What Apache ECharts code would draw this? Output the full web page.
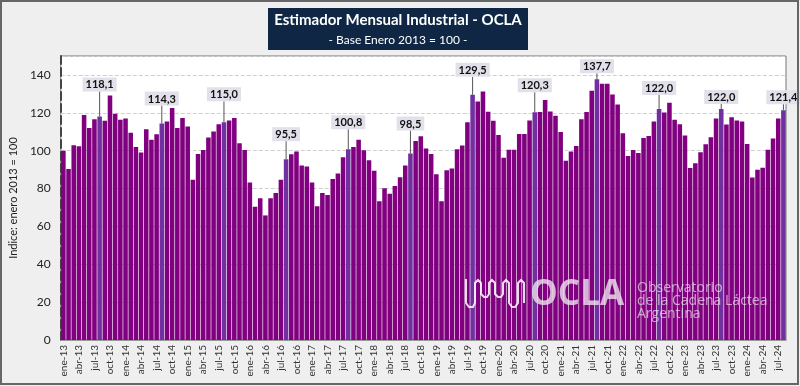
<!DOCTYPE html>
<html>
<head>
<meta charset="utf-8">
<script src="https://cdn.jsdelivr.net/npm/echarts@6/dist/echarts.min.js"></script>
<style>
html,body{margin:0;padding:0;background:#efefef;}
#c{width:800px;height:386px;}
</style>
</head>
<body>
<div id="c"></div>
<script>
const monthNames = ['ene','feb','mar','abr','may','jun','jul','ago','sep','oct','nov','dic'];
const years = ['13','14','15','16','17','18','19','20','21','22','23','24'];
const categories = [];
years.forEach(y => monthNames.forEach(m => categories.push(m + '-' + y)));
categories.length = 140; // ene-13 .. ago-24

const v2013 = [100.0, 90.3, 102.8, 102.3, 118.9, 112.0, 116.6, 118.1, 115.8, 129.2, 119.5, 116.3];
const v2014 = [117.0, 109.4, 102.0, 99.0, 111.3, 105.7, 108.7, 114.3, 115.4, 122.5, 112.0, 117.3];
const v2015 = [112.7, 84.6, 98.2, 100.4, 106.9, 110.1, 114.0, 115.0, 115.9, 117.2, 103.9, 100.4];
const v2016 = [83.2, 70.4, 74.9, 65.8, 74.9, 77.7, 84.6, 95.5, 98.1, 99.6, 92.2, 91.7];
const v2017 = [83.2, 70.6, 77.7, 76.6, 85.0, 88.0, 96.5, 100.8, 102.0, 105.7, 100.2, 95.0];
const v2018 = [89.4, 73.3, 80.2, 77.3, 81.4, 86.0, 92.2, 98.5, 105.1, 107.6, 101.2, 98.2];
const v2019 = [87.6, 73.3, 89.7, 90.6, 100.7, 102.7, 115.0, 129.5, 126.0, 131.3, 120.5, 115.8];
const v2020 = [108.3, 96.3, 100.5, 100.5, 108.8, 108.8, 115.9, 120.3, 120.4, 126.7, 120.7, 118.4];
const v2021 = [109.9, 94.7, 99.6, 102.5, 116.6, 120.4, 131.7, 137.7, 135.4, 135.4, 129.6, 124.4];
const v2022 = [109.2, 97.2, 100.4, 98.8, 106.7, 107.8, 115.4, 122.0, 120.2, 125.3, 116.3, 114.0];
const v2023 = [108.0, 90.8, 93.3, 99.1, 103.4, 107.1, 117.0, 122.0, 113.8, 117.7, 115.9, 115.4];
const v2024 = [103.5, 85.8, 89.9, 91.0, 100.5, 106.4, 117.0, 121.4];
const values = [].concat(v2013, v2014, v2015, v2016, v2017, v2018, v2019, v2020, v2021, v2022, v2023, v2024);

const yTicks = [0, 20, 40, 60, 80, 100, 120, 140];
const highlightMonth = 'ago';

// label vertical offsets (styling only)
const labelLift = {7: 22, 19: 15, 31: 18, 43: 15, 55: 17, 67: 20, 79: 15, 91: 17, 103: 3, 115: 11, 127: 2, 139: 3};

const data = values.map((v, i) => {
  const hl = categories[i].startsWith(highlightMonth);
  return {
    value: v,
    itemStyle: {color: hl ? '#7030a0' : '#800080'},
    label: {show: hl}
  };
});

const chart = echarts.init(document.getElementById('c'), null, {renderer: 'canvas'});
const FONT = 'Lato, "Open Sans", sans-serif';

const wave = [[466,279],[466,303],[469,307],[473,307],[475,303],[475,283],[478,280],[481,283],[481,294],[484,297],[487,297],[489,294],[489,283],[492,280],[495,283],[495,294],[498,297],[501,297],[503,294],[503,283],[506,280],[509,283],[509,303],[512,307],[515,307],[518,303],[518,283],[521,280],[524,283],[524,303]];

chart.setOption({
  backgroundColor: '#efefef',
  animation: false,
  textStyle: {fontFamily: FONT},
  grid: {left: 52, right: 14, top: 56, bottom: 46, show: true, backgroundColor: '#ffffff', borderColor: '#777', borderWidth: 1},
  xAxis: {
    type: 'category',
    data: categories,
    axisLine: {show: true, lineStyle: {color: '#999'}},
    axisTick: {show: false},
    axisLabel: {interval: 2, rotate: 90, fontSize: 10, color: '#333', margin: 5, fontFamily: FONT}
  },
  yAxis: {
    type: 'value',
    min: 0, max: 150, interval: 20,
    name: 'Indice: enero 2013 = 100',
    nameLocation: 'middle',
    nameGap: 31,
    nameTextStyle: {fontSize: 11, color: '#222', fontFamily: FONT},
    axisLine: {show: true, lineStyle: {color: '#444', type: 'dashed', width: 2}},
    axisTick: {show: false},
    axisLabel: {
      fontSize: 12, color: '#222', margin: 10, showMaxLabel: false, fontFamily: FONT,
      formatter: v => yTicks.indexOf(v) >= 0 ? String(v) : ''
    },
    splitLine: {show: true, lineStyle: {color: '#d0d0d0', type: 'dashed'}}
  },
  series: [{
    type: 'bar',
    data: data,
    barCategoryGap: '12%',
    label: {
      position: 'top',
      distance: 3,
      fontSize: 11,
      fontWeight: 'bold',
      color: '#111',
      fontFamily: FONT,
      backgroundColor: '#e2e0ea',
      padding: [2, 3, 1, 3],
      formatter: p => p.value.toFixed(1).replace('.', ',')
    },
    labelLine: {show: true, lineStyle: {color: '#555', width: 1}},
    labelLayout: p => ({dy: -(labelLift[p.dataIndex] || 0)}),
    z: 2
  }],
  graphic: [
    {type: 'rect', shape: {x: 268, y: 8, width: 260, height: 42}, style: {fill: '#0f2744'}, z: 10},
    {type: 'text', x: 398, y: 20, style: {text: 'Estimador Mensual Industrial - OCLA', fill: '#fff', font: 'bold 15px ' + FONT, textAlign: 'center', textVerticalAlign: 'middle'}, z: 11},
    {type: 'text', x: 398, y: 40, style: {text: '- Base Enero 2013 = 100 -', fill: '#fff', font: '12px ' + FONT, textAlign: 'center', textVerticalAlign: 'middle'}, z: 11},
    {type: 'polyline', shape: {points: wave}, style: {stroke: 'rgba(255,255,255,0.85)', lineWidth: 2, fill: null}, z: 20},
    {type: 'text', x: 530, y: 295, style: {text: 'OCLA', fill: 'rgba(235,225,235,0.8)', font: 'bold 35px "Open Sans", sans-serif', textVerticalAlign: 'middle'}, z: 20},
    {type: 'text', x: 637, y: 288, style: {text: 'Observatorio', fill: 'rgba(235,225,235,0.7)', font: '14px "Open Sans", sans-serif', textVerticalAlign: 'middle'}, z: 20},
    {type: 'text', x: 637, y: 301, style: {text: 'de la Cadena Láctea', fill: 'rgba(235,225,235,0.7)', font: '14px "Open Sans", sans-serif', textVerticalAlign: 'middle'}, z: 20},
    {type: 'text', x: 637, y: 314, style: {text: 'Argentina', fill: 'rgba(235,225,235,0.7)', font: '14px "Open Sans", sans-serif', textVerticalAlign: 'middle'}, z: 20},
    {type: 'rect', shape: {x: 1, y: 1, width: 797, height: 383}, style: {fill: null, stroke: '#666', lineWidth: 2}, z: 30}
  ]
});
</script>
</body>
</html>
